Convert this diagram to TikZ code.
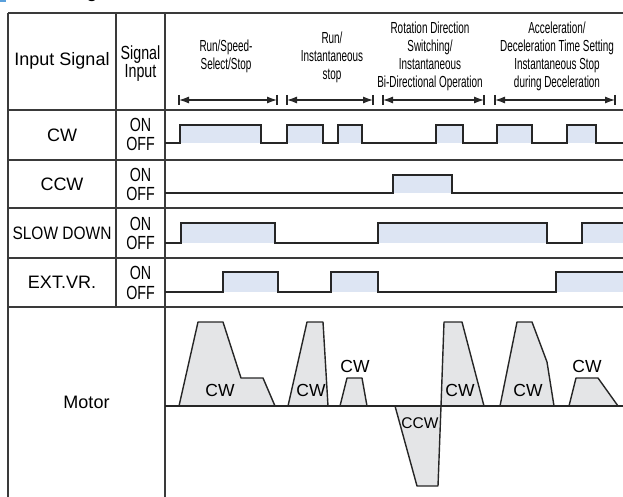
\documentclass[tikz,border=0pt]{standalone}
\usepackage{graphicx}
\usepackage{fontspec}
\setmainfont{Liberation Sans}
\newfontfamily\sigfont[FakeStretch=0.75]{Liberation Sans}
\newfontfamily\headfont[FakeStretch=0.62]{Liberation Sans}
\usetikzlibrary{arrows.meta}

\definecolor{pulseblue}{HTML}{DDE5F3}
\definecolor{motorgray}{HTML}{E4E5E7}
\definecolor{rulegray}{HTML}{3A3A3A}
\definecolor{titleblue}{HTML}{5AA0DC}

\begin{document}
\begin{tikzpicture}[
    x=1pt, y=-1pt,
    tableline/.style={line width=1.3pt, color=rulegray},
    sigline/.style={line width=1.6pt, color=black!85, line join=miter},
    onfill/.style={fill=pulseblue},
    motorshape/.style={draw=black!85, line width=1.4pt, fill=motorgray, line join=round},
    rowtext/.style={font=\fontsize{18}{20}\selectfont, inner sep=0pt},
    sigtext/.style={font=\sigfont\fontsize{19}{18}\selectfont, inner sep=0pt, align=center},
    headtext/.style={font=\headfont\fontsize{16}{18}\selectfont, inner sep=0pt, align=center},
    turntext/.style={font=\fontsize{17.5}{20}\selectfont, inner sep=0pt},
    spanarrow/.style={-{Latex[length=10pt, width=7pt]}, line width=1.1pt, color=black!85},
    spanbar/.style={line width=1.1pt, color=black!85},
]
\useasboundingbox (0,0) rectangle (623,497);

%% TITLE (cut at the top)
    \fill[titleblue] (-6,-14) rectangle (6,2);
    \node[font=\fontsize{20}{22}\selectfont, anchor=base west, inner sep=0pt] (title) at (38,-2) {Timing Chart};

%% TABLE
    % rules
    \draw[tableline] (8,13) -- (623,13);
    \foreach \ry in {110, 160, 208, 258, 307}
        \draw[tableline] (8,\ry) -- (623,\ry);
    \draw[tableline] (8,13) -- (8,497);
    \draw[tableline] (116,13) -- (116,307);
    \draw[tableline] (165,13) -- (165,497);

    % first columns
    \node[rowtext] (insig) at (62,61) {Input Signal};
    \node[sigtext] (siginput) at (140.5,64) {Signal\\Input};
    \node[rowtext] (cw) at (62,135) {CW};
    \node[rowtext] (ccw) at (62,184) {CCW};
    \node[rowtext] (slow) at (62,233) {\scalebox{0.86}[1]{SLOW DOWN}};
    \node[rowtext] (extvr) at (62,282) {EXT.VR.};
    \node[rowtext] (motor) at (86.5,402) {Motor};

    \node[sigtext] (cwon) at (140.5,125) {ON};
    \node[sigtext] (cwoff) at (140.5,144) {OFF};
    \node[sigtext] (ccwon) at (140.5,175) {ON};
    \node[sigtext] (ccwoff) at (140.5,194) {OFF};
    \node[sigtext] (slowon) at (140.5,224) {ON};
    \node[sigtext] (slowoff) at (140.5,243) {OFF};
    \node[sigtext] (extvron) at (140.5,273) {ON};
    \node[sigtext] (extvroff) at (140.5,293) {OFF};

%% HEADER
    \node[headtext] (runstop) at (226,56) {Run/Speed-\\Select/Stop};
    \node[headtext] (instant) at (332,57) {Run/\\Instantaneous\\stop};
    \node[headtext] (rotation) at (430,56) {Rotation Direction\\Switching/\\Instantaneous\\Bi-Directional Operation};
    \node[headtext] (accel) at (557,56) {Acceleration/\\Deceleration Time Setting\\Instantaneous Stop\\during Deceleration};

    % spans |<--->|
    \foreach \sname/\sa/\sb in {runstop/179/277, instant/287/373, rotation/383/484, accel/495/615} {
        \coordinate (\sname a) at (\sa,100);
        \coordinate (\sname b) at (\sb,100);
        \coordinate (\sname m) at ({(\sa+\sb)/2},100);
        \draw[spanarrow] (\sname m) -- (\sname a);
        \draw[spanarrow] (\sname m) -- (\sname b);
        \draw[spanbar] (\sa,95) -- (\sa,105);
        \draw[spanbar] (\sb,95) -- (\sb,105);
    }

%% SIGNALS
    % CW
    \foreach \a/\b in {180/261, 287/323, 338/362, 436/463, 497/532, 567/596}
        \fill[onfill] (\a,125) rectangle (\b,143);
    \draw[sigline] (165,143) -| (180,125) -| (261,143) -| (287,125) -| (323,143) -| (338,125) -| (362,143)
        -| (436,125) -| (463,143) -| (497,125) -| (532,143) -| (567,125) -| (596,143) -- (623,143);

    % CCW
    \fill[onfill] (393,175) rectangle (452,193);
    \draw[sigline] (165,193) -| (393,175) -| (452,193) -- (623,193);

    % SLOW DOWN
    \foreach \a/\b in {181/275, 378/547, 582/623}
        \fill[onfill] (\a,223) rectangle (\b,243);
    \draw[sigline] (165,243) -| (181,223) -| (275,243) -| (378,223) -| (547,243) -| (582,223) -- (623,223);

    % EXT.VR.
    \foreach \a/\b in {223/278, 331/378, 556/623}
        \fill[onfill] (\a,272) rectangle (\b,292);
    \draw[sigline] (165,292) -| (223,272) -| (278,292) -| (331,272) -| (378,292) -| (556,272) -- (623,272);

%% MOTOR
    \draw[motorshape] (179,406) -- (198,322) -- (223,322) -- (241,378) -- (263,378) -- (275,406) -- cycle;
    \draw[motorshape] (288,406) -- (307,322) -- (323,322) -- (328,406) -- cycle;
    \draw[motorshape] (340,406) -- (347,378) -- (362,378) -- (367,406) -- cycle;
    \draw[motorshape] (395,406) -- (417,486) -- (438,486) -- (441,406) -- cycle;
    \draw[motorshape] (441,406) -- (444,322) -- (462,322) -- (484,406) -- cycle;
    \draw[motorshape] (500,406) -- (517,322) -- (532,322) -- (547,362) -- (554,406) -- cycle;
    \draw[motorshape] (569,406) -- (576,378) -- (598,378) -- (618,406) -- cycle;
    \draw[sigline, line width=1.4pt] (165,406) -- (623,406);

    \node[turntext] (cw1) at (220,390) {CW};
    \node[turntext] (cw2) at (311,390) {CW};
    \node[turntext] (cw3) at (355,366) {CW};
    \node[turntext, font=\fontsize{15.5}{18}\selectfont] (ccw1) at (420,423) {CCW};
    \node[turntext] (cw4) at (460,390) {CW};
    \node[turntext] (cw5) at (528,390) {CW};
    \node[turntext] (cw6) at (587,366) {CW};

\end{tikzpicture}
\end{document}
